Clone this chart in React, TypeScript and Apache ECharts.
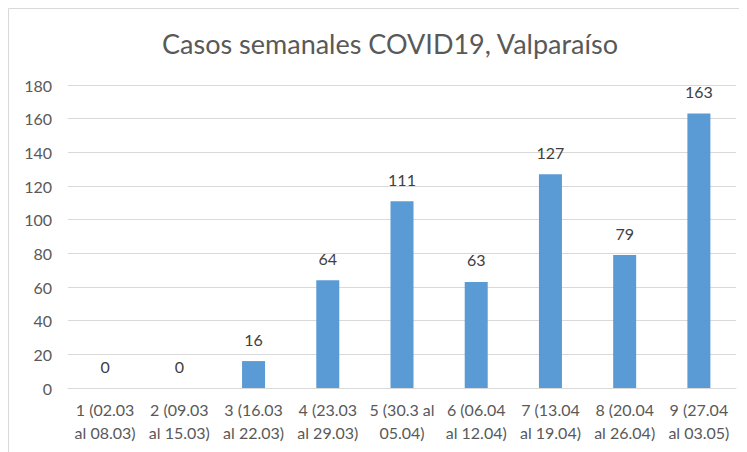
import React, { useEffect, useRef } from "react";
import * as echarts from "echarts";

const categories = [
  "1 (02.03\nal 08.03)",
  "2 (09.03\nal 15.03)",
  "3 (16.03\nal 22.03)",
  "4 (23.03\nal 29.03)",
  "5 (30.3 al\n05.04)",
  "6 (06.04\nal 12.04)",
  "7 (13.04\nal 19.04)",
  "8 (20.04\nal 26.04)",
  "9 (27.04\nal 03.05)",
];
const casos = [0, 0, 16, 64, 111, 63, 127, 79, 163];
const titleText = "Casos semanales COVID19, Valparaíso";

export default function App() {
  const ref = useRef<HTMLDivElement>(null);
  useEffect(() => {
    if (!ref.current) return;
    const chart = echarts.init(ref.current, null, { renderer: "svg" });
    chart.setOption({
      animation: false,
      backgroundColor: "#ffffff",
      textStyle: { fontFamily: "Lato" },
      title: {
        text: titleText,
        left: 377,
        textAlign: "center",
        top: 17,
        textStyle: { fontFamily: "Lato", fontSize: 27, fontWeight: "normal", color: "#595959" },
      },
      graphic: [
        {
          type: "rect",
          shape: { x: 0.5, y: 0.5, width: 760, height: 460 },
          style: { fill: "none", stroke: "#d9d9d9", lineWidth: 1 },
          silent: true,
        },
      ],
      grid: { left: 60, right: 11, top: 77, height: 303 },
      xAxis: {
        type: "category",
        data: categories,
        axisLine: { lineStyle: { color: "#d9d9d9" } },
        axisTick: { show: false },
        axisLabel: {
          color: "#595959",
          fontSize: 16,
          lineHeight: 23,
          margin: 10,
          interval: 0,
          fontFamily: "Lato",
        },
      },
      yAxis: {
        type: "value",
        min: 0,
        max: 180,
        interval: 20,
        axisLine: { show: false },
        axisTick: { show: false },
        splitLine: { lineStyle: { color: "#d9d9d9" } },
        axisLabel: { color: "#595959", fontSize: 16, margin: 16, fontFamily: "Lato" },
      },
      series: [
        {
          type: "bar",
          data: casos,
          barWidth: 23,
          itemStyle: { color: "#5b9bd5" },
          label: {
            show: true,
            position: "top",
            distance: 14,
            color: "#404040",
            fontSize: 16,
            fontFamily: "Lato",
          },
        },
      ],
    });
    return () => chart.dispose();
  }, []);
  return <div ref={ref} style={{ width: 739, height: 444 }} />;
}
